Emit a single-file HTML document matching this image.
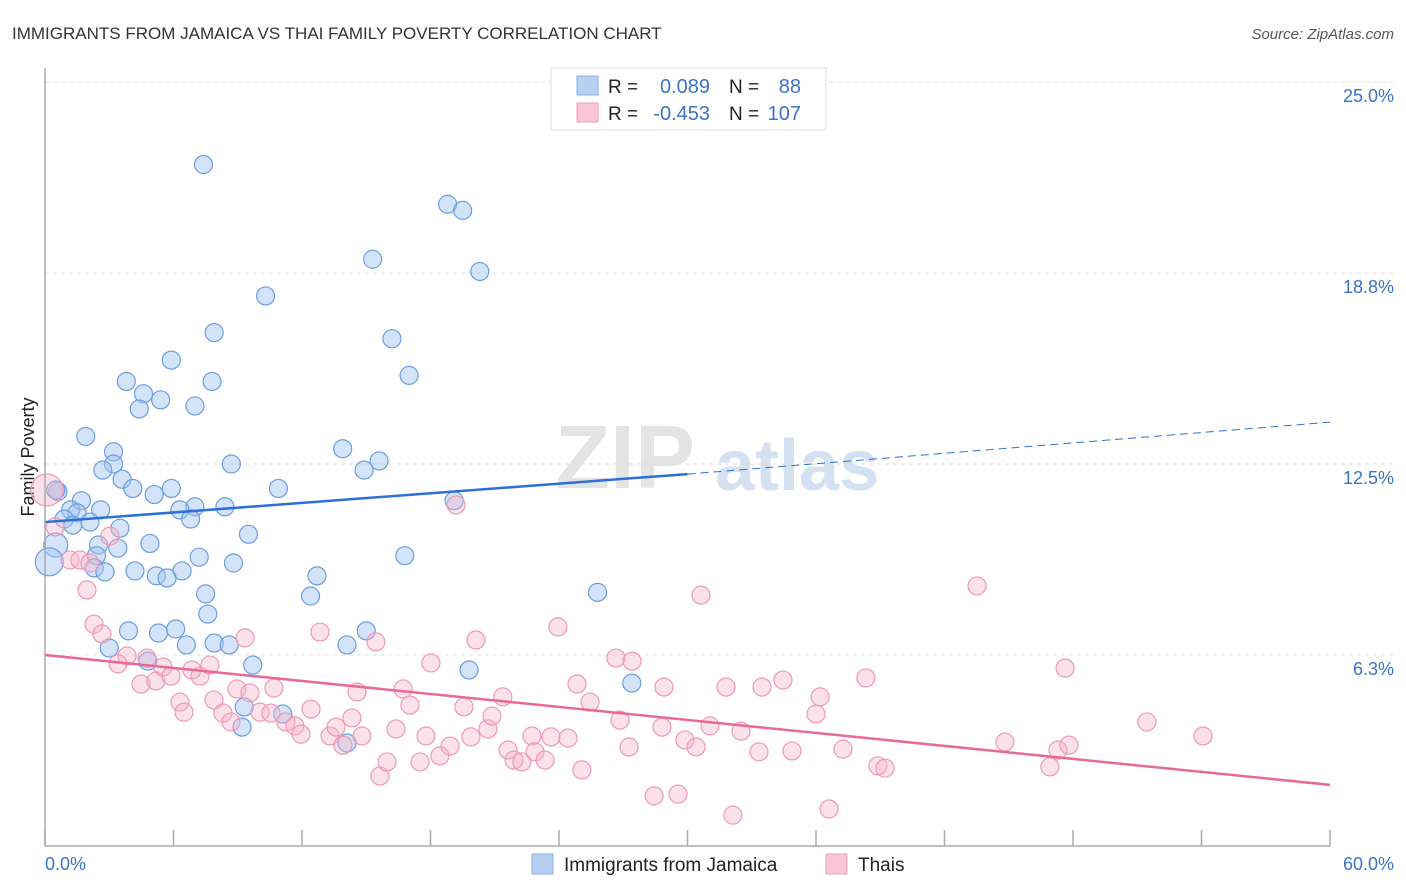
<!DOCTYPE html>
<html><head><meta charset="utf-8">
<style>
body{margin:0;background:#fff;font-family:"Liberation Sans",sans-serif;}
#wrap{position:relative;width:1406px;height:892px;overflow:hidden;}
svg text{font-family:"Liberation Sans",sans-serif;}
</style></head>
<body>
<div id="wrap">
<svg id="chart" width="1406" height="892">
<text x="12" y="39" font-size="17" fill="#333">IMMIGRANTS FROM JAMAICA VS THAI FAMILY POVERTY CORRELATION CHART</text>
<text x="1394" y="39" font-size="15" fill="#555" font-style="italic" text-anchor="end">Source: ZipAtlas.com</text>
<text x="34" y="457" font-size="18" fill="#222" text-anchor="middle" transform="rotate(-90 34 457)">Family Poverty</text>
<g>
<text x="555" y="488" font-size="90" fill="#e4e4e4" font-family="Liberation Serif" font-weight="bold">ZIP</text>
<text x="715" y="490" font-size="72" fill="#d3e1f1" font-weight="bold">atlas</text>
</g>
<g id="grid"></g><g id="marks"></g>
<line x1="45" y1="68" x2="45" y2="846" stroke="#aaa" stroke-width="1.5"/>
<line x1="45" y1="846" x2="1330" y2="846" stroke="#aaa" stroke-width="1.5"/>
<text x="45" y="870" font-size="18" fill="#3b73c9">0.0%</text>
<text x="1394" y="870" font-size="18" fill="#3b73c9" text-anchor="end">60.0%</text>
<g>
<rect x="551" y="68" width="275" height="62" fill="#fff" stroke="#ddd"/>
<rect x="577" y="76" width="21" height="19" fill="#b8d1f2" stroke="#88aee6"/>
<rect x="577" y="103" width="21" height="19" fill="#f8c6d5" stroke="#efa0b8"/>
<text x="608" y="93" font-size="19" fill="#222">R =</text><text x="710" y="93" font-size="20" fill="#3b73c9" text-anchor="end">0.089</text>
<text x="729" y="93" font-size="19" fill="#222">N =</text><text x="801" y="93" font-size="20" fill="#3b73c9" text-anchor="end">88</text>
<text x="608" y="120" font-size="19" fill="#222">R =</text><text x="710" y="120" font-size="20" fill="#3b73c9" text-anchor="end">-0.453</text>
<text x="729" y="120" font-size="19" fill="#222">N =</text><text x="801" y="120" font-size="20" fill="#3b73c9" text-anchor="end">107</text>
</g>
<g>
<rect x="532" y="854" width="21" height="20" fill="#b8d1f2" stroke="#88aee6"/>
<text x="564" y="871" font-size="19" fill="#222">Immigrants from Jamaica</text>
<rect x="826" y="854" width="21" height="20" fill="#f8c6d5" stroke="#efa0b8"/>
<text x="858" y="871" font-size="19" fill="#222">Thais</text>
</g>
</svg>
</div>
<script>
const yTicks=[6.25,12.5,18.75,25];
const yTickLabels=["6.3%","12.5%","18.8%","25.0%"];
const xTicks=[0,6,12,18,24,30,36,42,48,54,60];
const blueX=[7.4,18.8,19.5,15.3,20.3,10.3,7.9,16.2,5.9,17.0,3.8,7.8,4.6,5.4,7.0,4.4,1.9,13.9,3.2,15.6,3.2,8.7,2.7,14.9,3.6,10.9,4.1,0.6,1.7,5.1,5.9,7.0,8.4,6.3,19.1,6.8,1.2,2.6,1.5,0.9,2.1,3.5,1.3,9.5,0.5,4.9,3.4,2.5,2.4,16.8,7.2,8.8,2.3,4.2,2.8,6.4,5.2,5.7,12.7,0.2,25.8,7.5,12.4,7.6,3.9,5.3,6.1,15.0,7.9,8.6,6.6,3.0,14.1,4.8,9.7,19.8,27.4,9.3,11.1,14.1,9.2,0.5];
const blueY=[22.3,21.0,20.8,19.2,18.8,18.0,16.8,16.6,15.9,15.4,15.2,15.2,14.8,14.6,14.4,14.3,13.4,13.0,12.9,12.6,12.5,12.5,12.3,12.3,12.0,11.7,11.7,11.6,11.3,11.5,11.7,11.1,11.1,11.0,11.3,10.7,11.0,11.0,10.9,10.7,10.6,10.4,10.5,10.2,9.85,9.9,9.75,9.85,9.5,9.5,9.45,9.26,9.1,9.0,8.97,9.0,8.84,8.77,8.84,9.3,8.3,8.25,8.18,7.59,7.04,6.97,7.1,7.04,6.64,6.58,6.58,6.48,6.58,6.05,5.92,5.76,5.33,4.55,4.32,3.37,3.89,11.65];
const blueR=[9,9,9,9,9,9,9,9,9,9,9,9,9,9,9,9,9,9,9,9,9,9,9,9,9,9,9,9,9,9,9,9,9,9,9,9,9,9,9,9,9,9,9,9,12,9,9,9,9,9,9,9,9,9,9,9,9,9,9,14,9,9,9,9,9,9,9,9,9,9,9,9,9,9,9,9,9,9,9,9,9,9];
const pinkX=[0.09,0.47,1.17,1.63,2.10,3.03,1.96,2.29,2.66,3.83,3.41,4.76,4.48,5.18,5.51,5.88,6.86,7.24,7.70,9.34,6.30,6.49,7.89,8.31,8.96,9.57,8.68,10.69,10.04,10.55,11.25,11.67,12.42,12.84,11.95,13.31,14.33,14.57,15.45,13.59,13.91,14.80,15.64,15.97,16.39,16.72,17.04,18.02,17.79,17.51,18.44,18.91,19.19,19.56,19.89,20.12,20.68,20.87,21.38,21.62,21.90,22.27,22.74,22.88,23.35,23.63,23.95,24.42,24.84,25.07,25.45,26.66,26.85,27.27,27.41,28.44,28.81,28.90,29.56,29.88,30.40,30.63,31.05,31.80,32.12,32.50,33.34,33.48,34.46,34.88,36.00,36.19,36.61,37.26,38.33,38.89,39.22,43.52,44.82,46.92,47.30,47.63,47.81,51.45,54.07];
const pinkY=[11.65,10.44,9.36,9.36,9.26,10.14,8.38,7.26,6.94,6.22,5.96,6.15,5.30,5.40,5.86,5.56,5.76,5.56,5.92,6.81,4.71,4.38,4.78,4.35,5.14,5.01,4.06,5.17,4.38,4.35,4.06,3.93,4.48,7.00,3.66,3.60,4.19,5.04,6.68,3.89,3.30,3.60,2.29,2.75,3.83,5.14,4.61,5.99,3.60,2.75,2.95,3.27,11.16,4.55,3.57,6.74,3.83,4.25,4.88,3.14,2.81,2.75,3.60,3.08,2.81,3.57,7.17,3.53,5.30,2.49,4.71,6.15,4.12,3.24,6.05,1.64,3.89,5.20,1.70,3.47,3.24,8.21,3.93,5.20,1.01,3.76,3.08,5.20,5.43,3.11,4.32,4.88,1.21,3.17,5.50,2.62,2.55,8.51,3.40,2.59,3.14,5.82,3.30,4.06,3.60];
const pinkR=[16];
const blueTrend=[[0,10.6],[30,12.17],[60,13.87]];
const pinkTrend=[[0,6.25],[60,2.0]];
const NS="http://www.w3.org/2000/svg";
const xs=v=>45+v*(1285/60);
const ys=v=>846-v*30.56;
const grid=document.getElementById('grid'),marks=document.getElementById('marks');
function mk(tag,attrs,parent){const e=document.createElementNS(NS,tag);for(const k in attrs)e.setAttribute(k,attrs[k]);parent.appendChild(e);return e;}
yTicks.forEach((t,i)=>{
 const l=mk('line',{x1:45,x2:1394,y1:ys(t),y2:ys(t),stroke:'#ddd','stroke-dasharray':'4,4'},grid);
 
 
 const tx=mk('text',{x:1394,y:ys(t)+20,'font-size':18,fill:'#3b73c9','text-anchor':'end'},grid);
 tx.textContent=yTickLabels[i];
 
 
});
xTicks.forEach(t=>{
 const l=mk('line',{x1:xs(t),x2:xs(t),y1:830,y2:846,stroke:'#aaa','stroke-width':1.5},grid);
 
 
});
blueX.forEach((x,i)=>{
 const c=mk('circle',{cx:xs(x),cy:ys(blueY[i]),r:blueR[i]||9,fill:'rgba(160,196,240,0.45)',stroke:'#6c9de0','stroke-width':1.2},marks);
 
 
});
pinkX.forEach((x,i)=>{
 const c=mk('circle',{cx:xs(x),cy:ys(pinkY[i]),r:pinkR[i]||9,fill:'rgba(246,180,200,0.4)',stroke:'#ee9ab5','stroke-width':1.2},marks);
 
 
});
const b1=mk('line',{x1:xs(blueTrend[0][0]),y1:ys(blueTrend[0][1]),x2:xs(blueTrend[1][0]),y2:ys(blueTrend[1][1]),stroke:'#2c6fd6','stroke-width':2.5},marks);


const b2=mk('line',{x1:xs(blueTrend[1][0]),y1:ys(blueTrend[1][1]),x2:xs(blueTrend[2][0]),y2:ys(blueTrend[2][1]),stroke:'#2c6fd6','stroke-width':1,'stroke-dasharray':'8,5'},marks);


const p1=mk('line',{x1:xs(pinkTrend[0][0]),y1:ys(pinkTrend[0][1]),x2:xs(pinkTrend[1][0]),y2:ys(pinkTrend[1][1]),stroke:'#e8689a','stroke-width':2.5},marks);


</script>
</body></html>
